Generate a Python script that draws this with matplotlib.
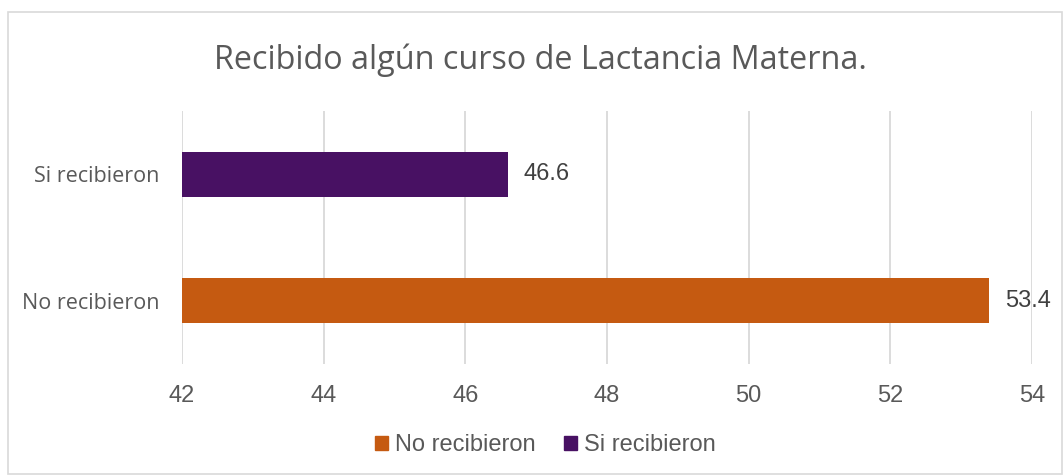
import matplotlib
matplotlib.use("Agg")
import matplotlib.pyplot as plt
from matplotlib.patches import Rectangle

categories = ["No recibieron", "Si recibieron"]
values = [53.4, 46.6]
colors = ["#C55A11", "#481163"]
xticks = [42, 44, 46, 48, 50, 52, 54]
title = "Recibido algún curso de Lactancia Materna."

W, H = 1063, 475
fig = plt.figure(figsize=(W / 100, H / 100), dpi=100)
ax = fig.add_axes([182 / W, 1 - 364 / H, (1032 - 182) / W, (364 - 111) / H])

txt = "#595959"
label_font = ["Liberation Sans", "DejaVu Sans"]
cat_font = ["Open Sans", "DejaVu Sans"]

ypos = list(range(len(categories)))
for y, v, c in zip(ypos, values, colors):
    ax.barh(y, v - xticks[0], left=xticks[0], height=0.356, color=c, zorder=3)
    ax.annotate(f"{v}", xy=(v, y), xytext=(11.5, 0), textcoords="offset points",
                va="center", ha="left", fontsize=17, color="#404040",
                family=label_font, zorder=4)

ax.set_xlim(xticks[0], xticks[-1])
ax.set_ylim(-0.5, len(categories) - 0.5)
ax.set_xticks(xticks)
ax.set_xticklabels([str(t) for t in xticks], fontsize=17, color=txt, family=label_font)
ax.set_yticks(ypos)
ax.set_yticklabels(categories, fontsize=15.5, color=txt, family=cat_font)
ax.tick_params(axis="both", length=0)
ax.tick_params(axis="x", pad=15)
ax.tick_params(axis="y", pad=16)
ax.grid(axis="x", color="#d9d9d9", linewidth=1.3, zorder=0)
for s in ax.spines.values():
    s.set_visible(False)

fig.text(540 / W, 1 - 60 / H, title, ha="center", va="center",
         fontsize=23.3, color=txt, family=cat_font)

handles = [Rectangle((0, 0), 1, 1, color=c) for c in colors]
leg = fig.legend(handles, categories, loc="center", bbox_to_anchor=(545 / W, 1 - 445 / H),
                 ncol=2, frameon=False, prop={"family": label_font, "size": 17},
                 handlelength=0.55, handleheight=0.55, handletextpad=0.3,
                 columnspacing=1.2, borderpad=0, borderaxespad=0)
for t in leg.get_texts():
    t.set_color(txt)

fig.patches.append(Rectangle((8 / W, 1 - 474 / H), (1062 - 8) / W, (474 - 12) / H,
                             transform=fig.transFigure, fill=False,
                             edgecolor="#d9d9d9", linewidth=1.2))

fig.savefig("out.png", dpi=100, facecolor="white")
